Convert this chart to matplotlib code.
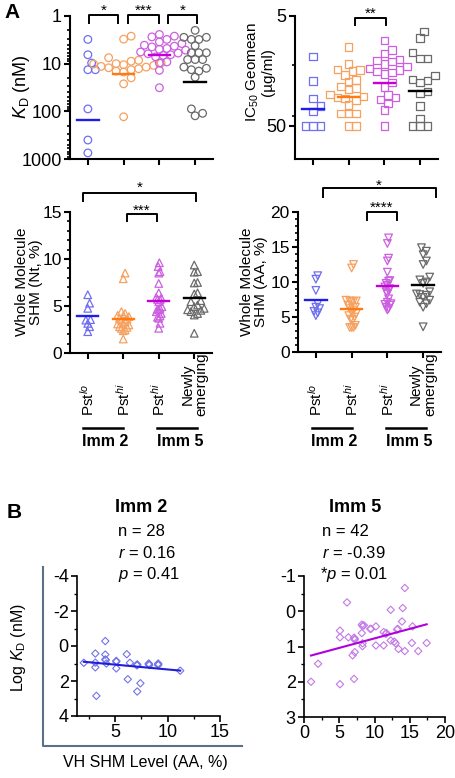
import numpy as np
import matplotlib.pyplot as plt
from matplotlib.lines import Line2D
from matplotlib.ticker import FixedLocator, MultipleLocator, NullFormatter, LogLocator
from matplotlib.transforms import blended_transform_factory

plt.rcParams["font.family"] = ["Liberation Sans", "DejaVu Sans"]
plt.rcParams["mathtext.fontset"] = "custom"
plt.rcParams["mathtext.rm"] = "Liberation Sans"
plt.rcParams["mathtext.it"] = "Liberation Sans:italic"
plt.rcParams["mathtext.bf"] = "Liberation Sans:bold"
plt.rcParams["axes.unicode_minus"] = False

# ---------------------------------------------------------------------------
# Data
# ---------------------------------------------------------------------------
cat_labels = ["Pst$^{lo}$", "Pst$^{hi}$", "Pst$^{hi}$", "Newly\nemerging"]
pt_colors = ["#6f6ff0", "#f6a160", "#cc5fe0", "#6a6a6a"]
line_colors = ["#1e1ee6", "#ff7a12", "#c400d6", "#000000"]

# KD (nM)
kd_lo2 = [3.1, 6.5, 9.7, 13.4, 13.4, 89, 400, 745]
kd_hi2 = [2.65, 3.06, 7.5, 8.5, 8.9, 9.7, 10.0, 10.2, 10.5, 10.9, 11.4, 11.8,
          12.2, 12.8, 13.4, 14.3, 15.0, 19.8, 26.5, 130]
kd_hi5 = [2.44, 2.65, 2.74, 3.1, 3.5, 3.8, 4.1, 4.3, 4.45, 4.8, 5.0, 5.2, 5.7,
          6.0, 6.2, 6.5, 6.7, 7.2, 9.2, 9.7, 13.8, 32]
kd_new5 = [2.0, 2.8, 2.8, 3.1, 3.1, 4.2, 5.9, 5.9, 5.9, 8.2, 8.2, 8.2, 11.8,
           12.5, 13.4, 14.3, 19.2, 89, 110, 124]
kd_centre = [155, 16.8, 6.5, 24.5]

# IC50 geomean (ug/ml)
ic_lo2 = [11.7, 19.5, 28, 32.9, 37, 50, 50, 50]
ic_hi2 = [9.6, 13.7, 15.3, 15.5, 15.8, 17.2, 19.1, 19.8, 21.9, 22.6, 23.2,
          25.8, 27, 27.4, 28, 29, 32.2, 38.4, 38.4, 38.4, 50, 50]
ic_hi5 = [8.4, 10.2, 10.9, 12.4, 12.7, 13, 13.7, 14.5, 15, 15.5, 16, 16.3,
          16.8, 20.2, 22.2, 26.1, 27.4, 28.6, 31.1, 35.8, 50]
ic_new5 = [6.9, 7.9, 10.8, 12.1, 12.1, 17.5, 18.8, 19.3, 20.2, 24.4, 25.3,
           32.9, 42.6, 50, 50, 50]
ic_centre = [35, 27.4, 20.2, 23.9]

# Whole molecule SHM (Nt, %)
nt_lo2 = [6.2, 5.3, 4.75, 3.55, 3.5, 3.15, 2.8, 2.27]
nt_hi2 = [8.5, 7.9, 4.4, 4.2, 4.0, 3.94, 3.87, 3.7, 3.6, 3.5, 3.33, 3.16,
          3.09, 2.98, 2.8, 2.73, 2.62, 2.45, 2.37, 1.49]
nt_hi5 = [9.6, 9.2, 8.65, 8.5, 7.4, 6.4, 5.9, 5.85, 5.7, 5.65, 5.46, 4.93,
          4.75, 4.65, 4.6, 4.4, 4.2, 3.94, 3.8, 3.7, 3.16, 2.63]
nt_new5 = [9.36, 8.65, 8.6, 7.5, 7.45, 6.4, 6.28, 5.57, 5.46, 5.1, 4.93,
           4.75, 4.6, 4.54, 4.4, 4.2, 4.04, 2.1]
nt_centre = [3.94, 3.62, 5.53, 5.82]

# Whole molecule SHM (AA, %)
aa_lo2 = [10.9, 10.4, 8.8, 6.9, 6.4, 6.2, 5.8, 5.6, 5.2]
aa_hi2 = [12.5, 12.0, 7.4, 7.3, 7.2, 7.2, 7.3, 6.7, 6.4, 6.2, 6.0, 5.7, 5.5,
          5.2, 5.0, 4.7, 4.5, 3.8, 3.5, 3.5, 3.5]
aa_hi5 = [16.3, 15.5, 13.4, 13.0, 11.4, 10.2, 10.1, 9.8, 9.5, 9.3, 9.05, 8.8,
          8.6, 8.3, 7.6, 7.1, 6.9, 6.8, 6.7, 6.4, 6.2, 6.0]
aa_new5 = [14.9, 14.4, 13.9, 13.0, 12.5, 10.7, 10.3, 10.0, 9.8, 8.6, 8.3,
           8.2, 8.1, 7.8, 7.4, 7.1, 6.9, 6.4, 3.6]
aa_centre = [7.4, 6.1, 9.5, 9.6]

# Panel B: VH SHM (AA, %) vs log KD
b2_shm = [2.0, 3.1, 3.1, 3.1, 3.2, 4.05, 4.05, 4.05, 4.15, 5.1, 5.1, 6.1, 6.4,
          6.2, 7.05, 7.1, 7.4, 8.2, 8.25, 9.1, 9.1, 11.2, 7.1, 8.2, 9.1, 5.1,
          4.1, 7.1]
b2_logkd = [0.96, 0.43, 0.95, 1.22, 2.85, -0.28, 0.49, 0.77, 1.0, 0.85, 1.28,
            0.47, 0.96, 1.9, 1.09, 2.6, 2.13, 1.0, 1.09, 1.0, 1.09, 1.41, 1.05,
            1.05, 1.05, 0.9, 0.8, 1.1]
b2_fit = (0.055, 0.79)          # slope, intercept
b5_shm = [14.3, 6.1, 14.0, 12.3, 13.9, 8.2, 8.3, 9.4, 10.2, 5.1, 15.4, 13.3,
          8.2, 11.3, 11.6, 5.1, 6.3, 7.1, 7.2, 12.3, 12.8, 13.0, 8.3, 15.3,
          17.4, 8.3, 10.2, 11.3, 13.4, 14.3, 16.2, 7.2, 6.9, 2.0, 1.0, 5.1,
          7.1, 11.7, 8.5, 13.2, 9.5, 7.2]
b5_logkd = [-0.66, -0.25, -0.09, -0.04, 0.29, 0.38, 0.42, 0.5, 0.43, 0.55,
            0.43, 0.5, 0.62, 0.59, 0.64, 0.74, 0.74, 0.75, 0.81, 0.83, 0.86,
            0.91, 0.91, 0.9, 0.9, 0.99, 0.97, 0.97, 1.07, 1.13, 1.13, 1.16,
            1.25, 1.49, 2.0, 2.07, 1.92, 0.62, 0.40, 0.52, 0.50, 0.78]
b5_fit = (-0.054, 1.31)

# ---------------------------------------------------------------------------
W, H = 455, 778
fig = plt.figure(figsize=(W / 100, H / 100), dpi=100)


def add_ax(l, t, r, b):
    return fig.add_axes([l / W, 1 - b / H, (r - l) / W, (b - t) / H])


def style(ax, lw=1.5, fs=13):
    for s in ("top", "right"):
        ax.spines[s].set_visible(False)
    for s in ("left", "bottom"):
        ax.spines[s].set_linewidth(lw)
    ax.tick_params(which="major", direction="out", length=4.5, width=lw,
                   labelsize=fs, pad=1.5)
    ax.tick_params(which="minor", direction="out", length=2.5, width=lw * 0.8)


def ftext(x, y, s, **kw):
    fig.text(x / W, 1 - y / H, s, **kw)


def swarm(ax, xc, vals, d=7.5):
    # simple beeswarm in pixel space
    vals = np.asarray(vals, float)
    pts = ax.transData.transform(np.column_stack([np.full(len(vals), xc), vals]))
    x0, ys = pts[0, 0], pts[:, 1]
    steps = [0.0]
    for k in range(1, 30):
        steps += [k * d / 2, -k * d / 2]
    placed = []
    xs = np.empty(len(vals))
    for i in np.argsort(ys):
        for s in steps:
            if all((s - px) ** 2 + (ys[i] - py) ** 2 >= (0.95 * d) ** 2
                   for px, py in placed):
                break
        placed.append((s, ys[i]))
        xs[i] = x0 + s
    return ax.transData.inverted().transform(np.column_stack([xs, ys]))[:, 0]


def dot_panel(ax, groups, centres, marker, size):
    for i, (vals, c) in enumerate(zip(groups, centres)):
        xs = swarm(ax, i, vals)
        ax.scatter(xs, vals, s=size, marker=marker, facecolors="none",
                   edgecolors=pt_colors[i], linewidths=0.9, clip_on=False, zorder=3)
        ax.plot([i - 0.3, i + 0.3], [c, c], color=line_colors[i], lw=1.7, zorder=4)
    ax.set_xlim(-0.5, 3.5)
    ax.set_xticks(range(4))
    ax.set_xticklabels([])


def bracket(ax, x1, x2, ytop, ydrop, label, ytxt):
    tr = blended_transform_factory(ax.transData, fig.transFigure)
    ax.plot([x1, x1, x2, x2], [1 - ydrop / H, 1 - ytop / H, 1 - ytop / H, 1 - ydrop / H],
            color="k", lw=1.4, transform=tr, clip_on=False)
    ax.text((x1 + x2) / 2, 1 - ytxt / H, label, transform=tr, ha="center",
            va="center", fontsize=11)


# ---------------------------------------------------------------------------
# Panel A, top left: KD
# ---------------------------------------------------------------------------
ax1 = add_ax(70, 16, 213, 159)
style(ax1)
ax1.set_yscale("log")
ax1.set_ylim(1000, 1)
ax1.yaxis.set_major_locator(FixedLocator([1, 10, 100, 1000]))
ax1.set_yticklabels(["1", "10", "100", "1000"])
ax1.yaxis.set_minor_locator(LogLocator(base=10, subs=np.arange(2, 10)))
ax1.yaxis.set_minor_formatter(NullFormatter())
ax1.set_xlim(-0.5, 3.5)
dot_panel(ax1, [kd_lo2, kd_hi2, kd_hi5, kd_new5], kd_centre, "o", 30)
bracket(ax1, 0.03, 0.85, 15, 23, "*", 11)
bracket(ax1, 1.13, 1.98, 15, 23, "***", 11)
bracket(ax1, 2.23, 3.06, 15, 23, "*", 11)
ftext(22, 87, "$K_{\\mathrm{D}}$ (nM)", rotation=90, ha="center", va="center",
      fontsize=13)

# ---------------------------------------------------------------------------
# Panel A, top right: IC50
# ---------------------------------------------------------------------------
ax2 = add_ax(295, 16, 438, 159)
style(ax2)
ax2.set_yscale("log")
ax2.set_ylim(100, 5)
ax2.yaxis.set_major_locator(FixedLocator([5, 50]))
ax2.set_yticklabels(["5", "50"])
ax2.yaxis.set_minor_locator(FixedLocator([14, 41]))
ax2.yaxis.set_minor_formatter(NullFormatter())
ax2.set_xlim(-0.5, 3.5)
dot_panel(ax2, [ic_lo2, ic_hi2, ic_hi5, ic_new5], ic_centre, "s", 28)
bracket(ax2, 1.17, 2.05, 18, 25, "**", 14)
ftext(260, 72, "IC$_{50}$ Geomean\n(µg/ml)", rotation=90, ha="center",
      va="center", fontsize=11, multialignment="center", linespacing=1.0)

# ---------------------------------------------------------------------------
# Panel A, middle: whole molecule SHM
# ---------------------------------------------------------------------------
ax3 = add_ax(70, 212, 212, 353)
style(ax3, fs=12.5)
ax3.set_ylim(0, 15)
ax3.set_yticks([0, 5, 10, 15])
ax3.yaxis.set_minor_locator(MultipleLocator(1))
dot_panel(ax3, [nt_lo2, nt_hi2, nt_hi5, nt_new5], nt_centre, "^", 30)
bracket(ax3, -0.12, 3.04, 193, 201, "*", 188)
bracket(ax3, 1.1, 1.96, 214, 221, "***", 211)
ftext(29, 282, "Whole Molecule\nSHM (Nt, %)", rotation=90, ha="center",
      va="center", fontsize=11, multialignment="center", linespacing=1.0)

ax4 = add_ax(298, 212, 441, 352)
style(ax4, fs=12.5)
ax4.set_ylim(0, 20)
ax4.set_yticks([0, 5, 10, 15, 20])
ax4.yaxis.set_minor_locator(MultipleLocator(1))
dot_panel(ax4, [aa_lo2, aa_hi2, aa_hi5, aa_new5], aa_centre, "v", 30)
bracket(ax4, 0.19, 3.35, 188, 197, "*", 186)
bracket(ax4, 1.42, 2.28, 212, 220, "****", 208)
ftext(254, 282, "Whole Molecule\nSHM (AA, %)", rotation=90, ha="center",
      va="center", fontsize=11, multialignment="center", linespacing=1.0)

for ax in (ax3, ax4):
    tr = blended_transform_factory(ax.transData, fig.transFigure)
    for i, lab in enumerate(cat_labels):
        ax.text(i, 1 - 416 / H, lab, transform=tr, rotation=90, ha="center",
                va="bottom", fontsize=11, multialignment="center", linespacing=1.0)
    ax.plot([-0.12, 1.0], [1 - 428 / H] * 2, color="k", lw=1.8, transform=tr,
            clip_on=False)
    ax.plot([1.95, 3.07], [1 - 428 / H] * 2, color="k", lw=1.8, transform=tr,
            clip_on=False)
    ax.text(0.5, 1 - 441 / H, "Imm 2", transform=tr, ha="center", va="center",
            fontsize=11.5, fontweight="bold")
    ax.text(2.6, 1 - 441 / H, "Imm 5", transform=tr, ha="center", va="center",
            fontsize=11.5, fontweight="bold")

# ---------------------------------------------------------------------------
# Panel B: correlations
# ---------------------------------------------------------------------------
ax5 = add_ax(77, 576, 220, 716)
style(ax5, lw=1.2, fs=13)
ax5.set_xlim(1.35, 15)
ax5.set_ylim(4, -4)
ax5.set_xticks([5, 10, 15])
ax5.xaxis.set_minor_locator(FixedLocator([2.5, 7.5, 12.5]))
ax5.set_yticks([-4, -2, 0, 2, 4])
ax5.yaxis.set_minor_locator(MultipleLocator(1))
ax5.scatter(b2_shm, b2_logkd, s=14, marker="D", facecolors="none",
            edgecolors="#7474e6", linewidths=0.8, zorder=3)
xf = np.array([min(b2_shm), max(b2_shm)])
ax5.plot(xf, b2_fit[0] * xf + b2_fit[1], color="#1f1fd6", lw=1.5, zorder=4)

ax6 = add_ax(304, 576, 445, 717)
style(ax6, lw=1.2, fs=13)
ax6.set_xlim(0, 20)
ax6.set_ylim(3, -1)
ax6.set_xticks([0, 5, 10, 15, 20])
ax6.xaxis.set_minor_locator(MultipleLocator(2.5))
ax6.set_yticks([-1, 0, 1, 2, 3])
ax6.yaxis.set_minor_locator(MultipleLocator(0.5))
ax6.scatter(b5_shm, b5_logkd, s=14, marker="D", facecolors="none",
            edgecolors="#c27ae6", linewidths=0.8, zorder=3, clip_on=False)
xf = np.array([min(b5_shm), max(b5_shm)])
ax6.plot(xf, b5_fit[0] * xf + b5_fit[1], color="#b000dc", lw=1.5, zorder=4)

fig.add_artist(Line2D([43 / W, 43 / W, 242 / W], [1 - 567 / H, 1 - 746 / H, 1 - 746 / H],
                      color="#5b7088", lw=1.5))

ftext(19, 648, "Log $K_{\\mathrm{D}}$ (nM)", rotation=90, ha="center",
      va="center", fontsize=11.5)
ftext(145, 762, "VH SHM Level (AA, %)", ha="center", va="center", fontsize=11.5)

ftext(141, 508, "Imm 2", ha="center", va="center", fontsize=13, fontweight="bold")
ftext(118, 532, "n = 28", ha="left", va="center", fontsize=12)
ftext(118, 553, "$r$ = 0.16", ha="left", va="center", fontsize=12)
ftext(118, 574, "$p$ = 0.41", ha="left", va="center", fontsize=12)
ftext(355, 508, "Imm 5", ha="center", va="center", fontsize=13, fontweight="bold")
ftext(322, 532, "n = 42", ha="left", va="center", fontsize=12)
ftext(322, 553, "$r$ = -0.39", ha="left", va="center", fontsize=12)
ftext(320, 574, "*$p$ = 0.01", ha="left", va="center", fontsize=12)

ftext(12, 12, "A", ha="center", va="center", fontsize=15, fontweight="bold")
ftext(14, 512, "B", ha="center", va="center", fontsize=15, fontweight="bold")

fig.savefig("out.png", dpi=100)
